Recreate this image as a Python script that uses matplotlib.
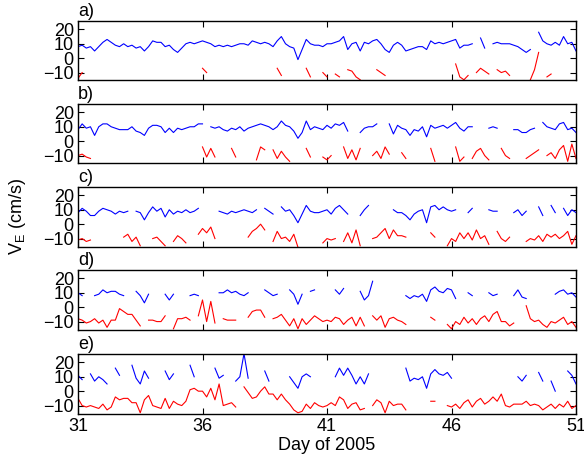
import numpy as np
import matplotlib
matplotlib.use('Agg')
from matplotlib import pyplot as plt

n = np.nan

# day axis: 4-hourly samples from day 31 to day 51
days = 31 + np.arange(121) / 6.0

a_blue = [8, 9, 7, 8, 5, 8, 11, 13, 11, 9,
          8, 10, 8, 9, 7, 8, 5, 8, 12, 11,
          11, 8, 9, 6, 4, 7, 10, 11, 10, 11,
          12, 11, 10, 8, 9, 8, 9, 8, 9, 10,
          10, 9, 12, 11, 10, 11, 10, 8, 12, 15,
          10, 8, 7, -1, 6, 13, 10, 9, 9, 8,
          10, 10, 11, 12, 15, 6, 10, 11, 5, 11,
          10, 12, 13, 10, 6, 4, 9, 11, 9, 5,
          6, 7, 8, 8, 6, 12, 10, 11, 10, 11,
          12, 13, 7, 9, 9, 10, n, 14, 7, n,
          10, 11, 10, 10, 10, 9, 8, 6, 4, 6,
          n, 18, 12, 10, 9, 11, 9, 15, 10, 11, 5]
a_red = [-14, -10, n, n, n, n, n, n, n, n,
         n, n, n, n, n, n, n, n, n, n,
         n, n, n, n, n, n, n, n, n, n,
         -7, -10, n, n, n, n, n, n, n, n,
         n, n, n, n, n, n, n, n, -7, -12,
         n, n, n, n, n, -7, -13, n, n, -10,
         -13, n, -11, -13, n, -8, -9, -13, -15, n,
         n, n, -8, -10, -12, n, n, n, n, n,
         n, n, n, n, n, n, n, n, n, n,
         n, -4, -13, -15, -12, n, -10, -7, -9, -11,
         n, -8, -10, -9, -12, n, n, n, n, -15,
         -8, 4, n, -13, -11, n, n, n, n, n, n]

b_blue = [8, 12, 9, 10, 4, 10, 12, 12, 10, 9,
          8, 8, 8, 10, 7, 6, 4, 9, 11, 11,
          10, 6, 9, 6, 9, 8, 9, 10, 10, 12,
          12, n, 10, 9, 10, 8, 7, 9, 8, 10,
          7, 9, 10, 11, 12, 11, 10, 8, 10, 14,
          11, 10, 7, 2, 6, 14, 8, 10, 9, 8,
          11, 9, 12, 11, 13, 7, n, n, 6, 9,
          10, 10, 12, n, n, 12, 5, 11, 9, 8,
          4, 8, 7, 10, 3, 11, 9, 10, 11, 9,
          11, 13, 9, 7, 10, 10, n, n, n, 9,
          10, 9, n, n, n, 8, 8, 6, 6, 8,
          9, n, 13, 10, 9, 8, 12, 13, 8, 9, 6]
b_red = [-10, -9, -11, -12, n, n, n, n, n, n,
         n, n, n, n, n, n, n, n, n, n,
         n, n, n, n, n, n, n, n, n, n,
         -4, -11, -5, -11, n, n, n, -5, -11, n,
         n, n, n, -13, -4, -6, n, -6, -12, -7,
         -11, -14, n, n, n, -5, -11, n, n, -11,
         -13, -10, n, n, -4, -12, -6, -13, -5, n,
         n, -10, -7, -12, -4, -9, n, n, -8, -12,
         n, n, n, n, n, -5, -14, n, n, n,
         n, -4, -14, -11, n, -12, -7, -5, -10, -13,
         n, n, -5, -10, -12, n, n, n, -12, -10,
         -8, -6, n, -10, -8, -12, -6, -3, -14, -2, -12]

c_blue = [8, 11, 9, 6, 6, 9, 11, 10, 9, 7,
          9, 8, 9, n, 9, 8, 3, 8, 12, 9,
          11, 5, 10, 7, 9, 8, 10, 8, 9, 11,
          n, n, n, n, 9, 8, 7, 9, 8, 9,
          10, 9, 8, 10, n, 11, 9, 7, n, 12,
          9, 10, 6, 1, 7, 13, 9, 8, 8, 9,
          10, 7, 11, 13, 10, 7, n, n, 6, 10,
          13, n, n, n, n, n, 10, 8, 8, 6,
          3, 7, 9, 10, 1, 12, 13, 10, 12, 10,
          9, 10, n, n, 8, 11, n, n, n, 10,
          9, 9, n, n, n, 8, 10, 6, 9, n,
          n, 12, 6, n, 13, 8, n, 11, 6, 10, 8]
c_red = [-11, -10, -12, -11, n, n, n, n, n, n,
         n, -9, -7, -12, -9, -15, n, n, -10, -9,
         -12, -15, n, -12, -8, -10, -13, n, n, -7,
         -3, -6, -2, -10, n, n, n, n, n, n,
         n, -9, -5, -3, 0, -4, n, -12, -5, -10,
         -9, -12, -7, -16, n, n, n, n, n, -13,
         -10, -11, -10, n, -12, -6, -13, -4, -15, n,
         n, -10, -9, -6, -3, -10, -4, -8, -8, -9,
         n, n, n, n, n, -6, -9, n, n, -15,
         -10, -12, -6, -10, -6, -11, -4, -10, -8, -14,
         n, -5, -10, -12, -9, n, n, n, -12, -10,
         -11, -8, -12, -7, -9, -7, -10, -8, -5, -14, -8]

d_blue = [10, 8, n, n, 8, 9, 12, 10, 11, 11,
          9, 8, n, n, 11, 8, 3, 9, n, n,
          n, 9, 5, 9, n, n, n, 8, 9, 8,
          n, n, n, n, 10, 10, 12, 10, 11, 9,
          8, 10, n, n, n, 12, 10, 8, 9, n,
          n, 12, 9, 2, 9, n, 11, 12, n, n,
          n, n, 12, 9, 13, n, n, n, 11, 5,
          8, 18, n, n, n, n, n, n, n, 8,
          6, 8, 7, 9, 4, 12, 14, 11, 10, 13,
          12, 6, n, n, 10, 8, n, n, n, 10,
          8, 9, n, n, n, 8, 12, 7, 6, n,
          n, n, n, n, n, 9, 11, 12, 9, 10, 7]
d_red = [-8, -9, -11, -10, -8, -11, -9, -14, -9, -9,
         -1, -3, -5, -5, -9, -13, n, -9, -9, -10,
         -10, -6, n, -15, -8, -8, -7, -9, n, -6,
         5, -10, 4, -11, n, -8, -9, -9, -9, n,
         n, -7, -3, -2, -2, -7, n, -8, -7, -5,
         -9, -13, -8, -15, -8, -12, -9, -6, -8, -10,
         -9, -10, -7, -8, -12, -9, -7, -13, -7, -13,
         n, -6, -9, -6, -14, -8, -7, -9, -10, -12,
         n, n, n, n, n, -7, -9, n, n, -12,
         -15, -10, -12, -7, -11, -8, -12, -8, -6, -10,
         -5, -3, -10, -10, -13, -11, n, n, 1, -8,
         -10, -9, -12, -14, -10, -11, -9, -7, -12, -10, -14]

e_blue = [11, 8, n, 12, 7, 10, 8, 5, n, 16,
          11, n, n, 18, 9, 5, 14, 9, n, n,
          n, 14, 8, 12, n, n, n, 18, 10, n,
          n, n, n, 16, 9, 11, n, n, 7, 10,
          26, 9, n, n, n, 14, 7, n, n, n,
          n, 10, 6, 2, 10, 12, 10, n, n, n,
          n, n, 10, 16, 11, 16, 11, 5, 10, 5,
          12, n, n, n, n, n, n, n, n, 16,
          7, 9, 8, 10, 2, 12, 15, 12, 11, 13,
          9, n, n, n, n, n, n, n, n, n,
          n, n, n, n, n, n, 10, 7, 11, n,
          n, 13, 7, n, 7, 0, n, n, 14, 11, 5]
e_red = [-5, -10, -11, -10, -11, -12, -9, -13, -11, -4,
         -6, -5, -5, -8, -8, -15, -6, -3, -10, -11,
         -12, -5, -12, -7, -9, -10, -7, 1, 2, 0,
         0, -4, 2, -6, 5, -10, -9, -8, -11, n,
         3, -1, -5, -4, 0, 3, -2, -2, -6, -2,
         -6, -9, -13, -15, -14, -9, -12, -8, -10, -11,
         -10, -8, -10, -4, -6, -12, -9, -8, -13, -12,
         n, -10, -6, -8, -15, -7, -10, -9, -9, -13,
         n, n, n, n, n, -7, -7, n, n, -10,
         -11, -9, -12, -8, -6, -11, -7, -5, -9, -7,
         -4, -7, -2, -10, -11, -9, -9, -9, -7, -10,
         -9, -10, -13, -11, -9, -12, -9, -11, -7, -12, -10]

panels = ['a)', 'b)', 'c)', 'd)', 'e)']
blues = [a_blue, b_blue, c_blue, d_blue, e_blue]
reds = [a_red, b_red, c_red, d_red, e_red]
xticks = [31, 36, 41, 46, 51]
yticks = [-10, 0, 10, 20]

plt.rcParams['font.family'] = 'Liberation Sans'
fig = plt.figure(figsize=(5.84, 4.61), dpi=100)
W, H = 584.0, 461.0
tops = [21, 104, 187, 270, 354]
for k in range(5):
    ax = fig.add_axes([78 / W, 1 - (tops[k] + 59.5) / H, 498 / W, 59.5 / H])
    ax.plot(days, reds[k], color=(1, 0, 0), lw=0.8)
    ax.plot(days, blues[k], color=(0, 0, 1), lw=0.8)
    ax.set_xlim(31, 51)
    ax.set_ylim(-15.5, 25.8)
    ax.set_xticks(xticks)
    ax.set_yticks(yticks)
    ax.tick_params(direction='in', top=True, right=True, length=4, width=0.8,
                   labelsize=13, pad=3)
    for s in ax.spines.values():
        s.set_linewidth(1.0)
    if k < 4:
        ax.set_xticklabels([])
    else:
        ax.set_xlabel('Day of 2005', fontsize=13, labelpad=2)
    ax.text(0.0, 1.02, panels[k], transform=ax.transAxes, fontsize=13,
            ha='left', va='bottom')

fig.text(18 / W, 1 - 217 / H, 'V$_\\mathregular{E}$ (cm/s)', rotation=90,
         fontsize=13, ha='center', va='center')
fig.savefig('out.png', dpi=100)
